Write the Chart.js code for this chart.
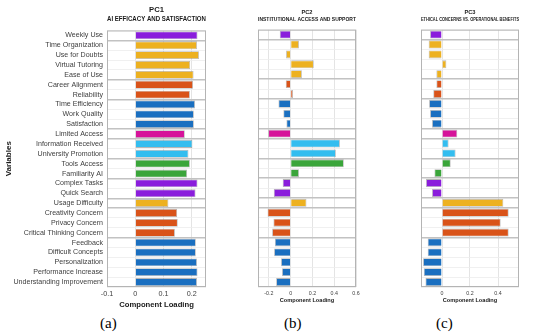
<!DOCTYPE html>
<html>
<head>
<meta charset="utf-8">
<script src="https://cdn.jsdelivr.net/npm/chart.js@4.4.0/dist/chart.umd.min.js"></script>
<style>
  body { margin: 0; background: #fff; width: 550px; height: 335px; position: relative; overflow: hidden; }
  canvas { position: absolute; top: 0; }
  .lab { position: absolute; top: 315px; font: 15px "Liberation Serif", serif; color: #000; }
</style>
</head>
<body>
<canvas id="pc1" width="225" height="312" style="left:0"></canvas>
<canvas id="pc2" width="140" height="312" style="left:237px"></canvas>
<canvas id="pc3" width="150" height="312" style="left:406px"></canvas>
<div class="lab" style="left:100px">(a)</div>
<div class="lab" style="left:284px">(b)</div>
<div class="lab" style="left:436px">(c)</div>
<script>
const variables = ['Weekly Use','Time Organization','Use for Doubts','Virtual Tutoring','Ease of Use',
  'Career Alignment','Reliability','Time Efficiency','Work Quality','Satisfaction','Limited Access',
  'Information Received','University Promotion','Tools Access','Familiarity AI','Complex Tasks',
  'Quick Search','Usage Difficulty','Creativity Concern','Privacy Concern','Critical Thinking Concern',
  'Feedback','Difficult Concepts','Personalization','Performance Increase','Understanding Improvement']

// group colour of each variable
const groups = ['purple','yellow','yellow','yellow','yellow','orange','orange','blue','blue','blue','magenta',
  'cyan','cyan','green','green','purple','purple','yellow','orange','orange','orange',
  'blue','blue','blue','blue','blue']

const pc1 = [0.220,0.218,0.225,0.194,0.206,0.204,0.193,0.211,0.207,0.207,0.175,0.202,0.188,0.193,0.183,
  0.220,0.213,0.117,0.148,0.150,0.140,0.214,0.214,0.218,0.220,0.218]
const pc2 = [-0.100,0.076,-0.042,0.212,0.103,-0.045,0.021,-0.112,-0.067,-0.039,-0.206,0.452,0.415,0.488,0.076,
  -0.073,-0.155,0.145,-0.212,-0.158,-0.170,-0.145,-0.152,-0.088,-0.079,-0.133]
const pc3 = [-0.085,-0.095,-0.095,0.031,-0.040,-0.040,-0.062,-0.092,-0.085,-0.071,0.109,0.047,0.097,0.062,-0.054,
  -0.114,-0.071,0.438,0.476,0.419,0.476,-0.102,-0.102,-0.135,-0.130,-0.118]

const palette = {
  purple: '#8A1DDC', yellow: '#EDB120', orange: '#D95319', blue: '#1A6FC0',
  magenta: '#D6139A', cyan: '#33BDEF', green: '#3AA53A'
}
const barColors = groups.map(g => palette[g])

const font = 'Liberation Sans, Arial, sans-serif'

// grey frame round the plot area
const boxPlugin = {
  id: 'box',
  afterDraw(chart) {
    const a = chart.chartArea, c = chart.ctx
    c.save()
    c.strokeStyle = '#b4b4b4'
    c.lineWidth = 1
    c.strokeRect(a.left + 0.5, a.top + 0.5, a.right - a.left - 1, a.bottom - a.top - 1)
    c.restore()
  }
}

function makeChart(id, data, opts) {
  const big = opts.big
  return new Chart(document.getElementById(id), {
    type: 'bar',
    data: {
      labels: variables,
      datasets: [{
        data: data,
        backgroundColor: barColors,
        borderColor: 'rgba(110,110,110,0.5)',
        borderWidth: 0.8,
        barPercentage: 0.8,
        categoryPercentage: 1
      }]
    },
    options: {
      indexAxis: 'y',
      responsive: false,
      animation: false,
      layout: { padding: { left: opts.padLeft, right: opts.padRight, top: 0, bottom: big ? 2 : 8 } },
      plugins: {
        legend: { display: false },
        tooltip: { enabled: false },
        title: {
          display: true,
          text: opts.title,
          fullSize: false,
          color: '#1a1a1a',
          font: { family: font, size: big ? 7.7 : 5.7, weight: 'bold', lineHeight: 1.2 },
          padding: { top: big ? 5 : 9, bottom: big ? 7 : 7 }
        }
      },
      scales: {
        x: {
          min: opts.min,
          max: opts.max,
          ticks: {
            stepSize: opts.step,
            includeBounds: false,
            color: '#404040',
            font: { family: font, size: big ? 7.2 : 5.3 },
            padding: 3,
            callback: v => Math.abs(Math.round(v / opts.step) * opts.step - v) < 1e-6 ? +v.toFixed(2) : ''
          },
          grid: { color: '#e4e4e4', drawTicks: false },
          border: { display: false },
          title: {
            display: true,
            text: 'Component Loading',
            color: '#1a1a1a',
            font: { family: font, size: big ? 7.7 : 5.6, weight: 'bold' },
            padding: 0
          },
          afterFit: s => { s.height = big ? 23 : 17 }
        },
        y: {
          ticks: {
            display: big,
            color: '#404040',
            font: { family: font, size: 7.1 },
            padding: 4,
            autoSkip: false
          },
          grid: {
            offset: true,
            drawTicks: false,
            color: ctx => (ctx.index > 0 && ctx.index < groups.length && groups[ctx.index] !== groups[ctx.index - 1]) ? '#c2c2c2' : '#ececec',
            lineWidth: ctx => (ctx.index > 0 && ctx.index < groups.length && groups[ctx.index] !== groups[ctx.index - 1]) ? 1.4 : 0.8
          },
          border: { display: false },
          title: {
            display: big,
            text: 'Variables',
            color: '#1a1a1a',
            font: { family: font, size: 8, weight: 'bold' },
            padding: 0
          },
          afterFit: s => { s.width = opts.yWidth }
        }
      }
    },
    plugins: [boxPlugin]
  })
}

makeChart('pc1', pc1, { big: true, title: ['PC1', 'AI EFFICACY AND SATISFACTION'],
  min: -0.1, max: 0.25, step: 0.1, padLeft: 4, padRight: 19, yWidth: 103 })
makeChart('pc2', pc2, { big: false, title: ['PC2', 'INSTITUTIONAL ACCESS AND SUPPORT'],
  min: -0.3, max: 0.6, step: 0.2, padLeft: 21, padRight: 21, yWidth: 0 })
makeChart('pc3', pc3, { big: false, title: ['PC3', 'ETHICAL CONCERNS VS. OPERATIONAL BENEFITS'],
  min: -0.15, max: 0.55, step: 0.2, padLeft: 15, padRight: 37, yWidth: 0 })
</script>
</body>
</html>
